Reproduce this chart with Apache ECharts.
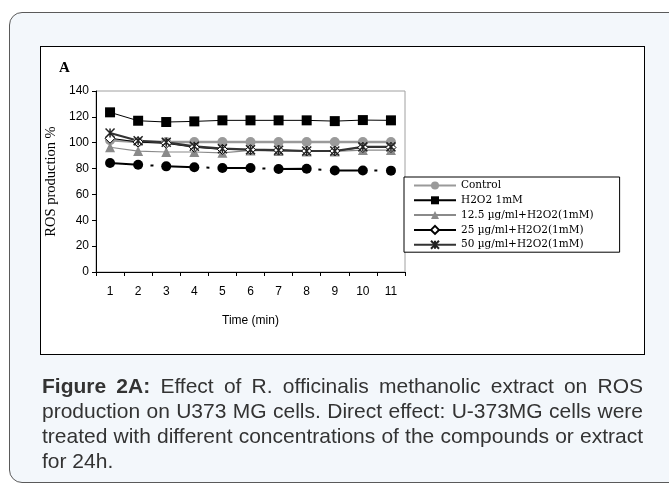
<!DOCTYPE html>
<html>
<head>
<meta charset="utf-8">
<script src="https://cdn.jsdelivr.net/npm/echarts@6/dist/echarts.min.js"></script>
<style>
html,body{margin:0;padding:0;width:669px;height:484px;overflow:hidden;background:#fff;}
#frame{position:absolute;left:9px;top:12px;width:690px;height:471px;box-sizing:border-box;border:1.5px solid #5a5a5a;border-radius:13px;background:#f3f7fb;}
#inner{position:absolute;left:40px;top:46px;width:605px;height:309px;box-sizing:border-box;border:1px solid #000;background:#fff;}
#chart{position:absolute;left:0;top:0;width:669px;height:484px;}
#caption{position:absolute;left:42px;top:373px;width:601px;font-family:"Liberation Sans",Arial,sans-serif;font-size:21px;line-height:25px;color:#333;}
#caption .j{text-align:justify;text-align-last:justify;white-space:nowrap;}
#caption b{color:#333;}
</style>
</head>
<body>
<div id="frame"></div>
<div id="inner"></div>
<div id="chart"></div>
<div id="caption">
<div class="j"><b>Figure 2A:</b> Effect of R. officinalis methanolic extract on ROS</div>
<div class="j">production on U373 MG cells. Direct effect: U-373MG cells were</div>
<div class="j">treated with different concentrations of the compounds or extract</div>
<div>for 24h.</div>
</div>
<script>
// ---- data ----
var categories = ['1','2','3','4','5','6','7','8','9','10','11'];
var seriesNames = ['Control','H2O2 1mM','12.5 \u00b5g/ml+H2O2(1mM)','25 \u00b5g/ml+H2O2(1mM)','50 \u00b5g/ml+H2O2(1mM)'];
var controlValues = [102, 100.5, 100.5, 100.5, 100.5, 100.5, 100.5, 100.5, 100.5, 100.5, 100.5];
var h2o2Values    = [123.5, 117, 116, 116.5, 117.3, 117.3, 117.3, 117.3, 116.7, 117.5, 117.3];
var c125Values    = [96.5, 93.5, 92.8, 92.8, 92.2, 94, 93.5, 93.3, 93.3, 94.3, 94.3];
var c25Values     = [103.5, 100.5, 99.5, 96.5, 94.8, 94.6, 94.3, 93.6, 93.6, 96.3, 96.3];
var c50Values     = [107.5, 101.5, 100.3, 97.2, 95.4, 94.6, 94.2, 93.6, 93.6, 96.8, 96.8];
var extraValues   = [84.3, 83, 81.7, 81, 80.4, 80.5, 79.6, 79.8, 78.5, 78.5, 78.4];
var yTicks = {min: 0, max: 140, interval: 20};

var chart = echarts.init(document.getElementById('chart'), null, {renderer: 'canvas'});
var star = 'path://M0,0L10,10M10,0L0,10M5,0L5,10';
var option = {
  backgroundColor: 'transparent',
  animation: false,
  graphic: [{
    type: 'text', left: 59, top: 61,
    style: {text: 'A', font: 'bold 15px "Liberation Serif", serif', fill: '#000'}
  }],
  grid: {left: 96, top: 91, width: 309, height: 181, show: true, borderColor: '#a0a0a0', borderWidth: 1, backgroundColor: 'transparent'},
  legend: {
    data: seriesNames,
    orient: 'vertical',
    left: 404, top: 177,
    itemWidth: 42, itemHeight: 10, itemGap: 3.8,
    padding: [3, 26, 2, 9],
    borderColor: '#000', borderWidth: 1, backgroundColor: '#fff',
    textStyle: {fontFamily: '"DejaVu Serif", serif', fontSize: 10.5, color: '#000', lineHeight: 10},
    selectedMode: false
  },
  xAxis: {
    type: 'category', data: categories, boundaryGap: true,
    name: 'Time (min)', nameLocation: 'middle', nameGap: 43,
    nameTextStyle: {fontFamily: '"Liberation Sans", Arial, sans-serif', fontSize: 12, color: '#000'},
    axisLine: {lineStyle: {color: '#000', width: 1}},
    axisTick: {show: true, inside: false, length: 4, interval: 0, alignWithLabel: false, lineStyle: {color: '#000'}},
    axisLabel: {interval: 0, margin: 14, fontFamily: '"Liberation Sans", Arial, sans-serif', fontSize: 12, color: '#000'},
    splitLine: {show: false}
  },
  yAxis: {
    type: 'value', min: yTicks.min, max: yTicks.max, interval: yTicks.interval,
    name: 'ROS production %', nameLocation: 'middle', nameGap: 37,
    nameTextStyle: {fontFamily: '"Liberation Serif", serif', fontSize: 14.5, color: '#000'},
    axisLine: {show: true, lineStyle: {color: '#000', width: 1}},
    axisTick: {show: true, inside: false, length: 4, lineStyle: {color: '#000'}},
    axisLabel: {margin: 7, fontFamily: '"Liberation Sans", Arial, sans-serif', fontSize: 12, color: '#000'},
    splitLine: {show: false}
  },
  series: [
    {name: seriesNames[0], type: 'line', data: controlValues, symbol: 'circle', symbolSize: 10,
     lineStyle: {color: '#9a9a9a', width: 2.5}, itemStyle: {color: '#9a9a9a'}},
    {name: seriesNames[1], type: 'line', data: h2o2Values, symbol: 'rect', symbolSize: 10,
     lineStyle: {color: '#000', width: 1}, itemStyle: {color: '#000'}},
    {name: seriesNames[2], type: 'line', data: c125Values, symbol: 'triangle', symbolSize: 10,
     lineStyle: {color: '#8a8a8a', width: 1.2}, itemStyle: {color: '#8a8a8a'}},
    {name: seriesNames[3], type: 'line', data: c25Values, symbol: 'diamond', symbolSize: 10,
     lineStyle: {color: '#000', width: 1}, itemStyle: {color: '#fff', borderColor: '#000', borderWidth: 1}},
    {name: seriesNames[4], type: 'line', data: c50Values, symbol: star, symbolSize: 9,
     lineStyle: {color: '#333', width: 2.2}, itemStyle: {color: '#222', borderColor: '#222', borderWidth: 1.5}},
    {name: 'extra', type: 'line', data: extraValues, symbol: 'circle', symbolSize: 10,
     lineStyle: {color: '#000', width: 2, type: [30, 10.5, 3, 12.5]}, itemStyle: {color: '#000'}}
  ]
};
chart.setOption(option);
</script>
</body>
</html>
